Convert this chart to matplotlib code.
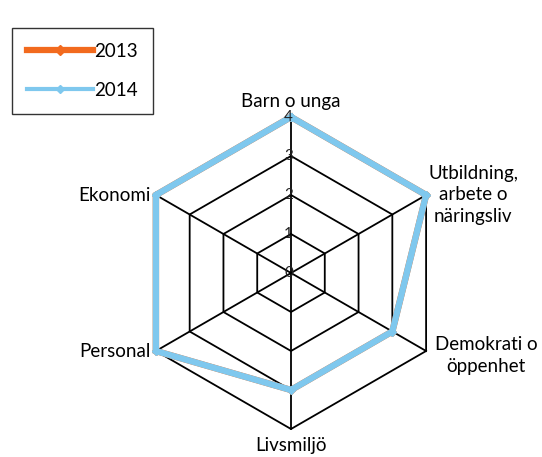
import numpy as np
import matplotlib
matplotlib.use("Agg")
import matplotlib.pyplot as plt
from matplotlib.lines import Line2D

plt.rcParams['font.family'] = ['Lato', 'DejaVu Sans']

categories = ["Barn o unga", "Utbildning,\narbete o\nnäringsliv", "Demokrati o\nöppenhet",
              "Livsmiljö", "Personal", "Ekonomi"]
values_2013 = [4, 4, 3, 3, 4, 4]
values_2014 = [4, 4, 3, 3, 4, 4]
ring_levels = [0, 1, 2, 3, 4]
series_names = ["2013", "2014"]

color_2013 = "#F26A1E"
color_2014 = "#7FC8EE"

W, H = 542, 457
fig = plt.figure(figsize=(W / 100, H / 100), dpi=100)

cx, cy, rad = 291, 273, 156
ax = fig.add_axes([(cx - rad) / W, (H - cy - rad) / H, 2 * rad / W, 2 * rad / H],
                  projection="polar")
ax.set_theta_zero_location("N")
ax.set_theta_direction(-1)
ax.set_ylim(0, 4)
ax.grid(False)
ax.spines["polar"].set_visible(False)
ax.set_xticks([])
ax.set_yticks([])
ax.patch.set_alpha(0)

n = len(categories)
angles = np.linspace(0, 2 * np.pi, n, endpoint=False)
closed = np.concatenate([angles, angles[:1]])

# hexagonal grid rings and spokes
for lvl in ring_levels[1:]:
    ax.plot(closed, [lvl] * (n + 1), color="black", lw=1.3, zorder=1, clip_on=False)
for a in angles:
    ax.plot([a, a], [0, ring_levels[-1]], color="black", lw=1.3, zorder=1, clip_on=False)

# ring value labels along the top spoke
for lvl in ring_levels:
    ax.annotate(str(lvl), xy=(0, lvl), xytext=(1.5, 0), textcoords="offset points",
                ha="right", va="center", fontsize=11, color="#222222", zorder=5)

for vals, col in [(values_2013, color_2013), (values_2014, color_2014)]:
    v = list(vals) + [vals[0]]
    ax.plot(closed, v, color=col, lw=4.6, marker="D", markersize=4,
            solid_joinstyle="miter", zorder=3, clip_on=False)

# category labels
fs = 13.5
ax.annotate(categories[0], xy=(angles[0], 4), xytext=(0, 5), textcoords="offset points",
            ha="center", va="bottom", fontsize=fs)
ax.annotate(categories[1], xy=(angles[1], 4), xytext=(34, 0), textcoords="offset points",
            ha="center", va="center", fontsize=fs, linespacing=1.35)
ax.annotate(categories[2], xy=(angles[2], 4), xytext=(43, -3), textcoords="offset points",
            ha="center", va="center", fontsize=fs, linespacing=1.35)
ax.annotate(categories[3], xy=(angles[3], 4), xytext=(0, -6), textcoords="offset points",
            ha="center", va="top", fontsize=fs)
ax.annotate(categories[4], xy=(angles[4], 4), xytext=(-4, 0), textcoords="offset points",
            ha="right", va="center", fontsize=fs)
ax.annotate(categories[5], xy=(angles[5], 4), xytext=(-4, 0), textcoords="offset points",
            ha="right", va="center", fontsize=fs)

handles = [Line2D([], [], color=color_2013, lw=4.5, marker="D", markersize=5),
           Line2D([], [], color=color_2014, lw=3, marker="D", markersize=4)]
leg = fig.legend(handles, series_names, loc="upper left",
                 bbox_to_anchor=(12 / W, 1 - 28 / H), frameon=True, fancybox=False,
                 fontsize=fs, handlelength=3.5, handletextpad=0.1,
                 labelspacing=1.15, borderpad=0.8, borderaxespad=0)
leg.get_frame().set_edgecolor("black")
leg.get_frame().set_linewidth(1.0)

fig.savefig("out.png", dpi=100)
